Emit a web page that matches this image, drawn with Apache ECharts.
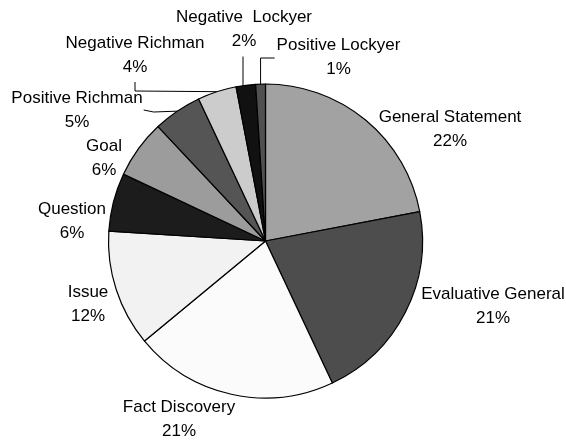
<!DOCTYPE html>
<html>
<head>
<meta charset="utf-8">
<script src="https://cdn.jsdelivr.net/npm/echarts@6/dist/echarts.min.js"></script>
<style>
  html, body { margin: 0; padding: 0; background: #fff; }
  #chart { width: 566px; height: 442px; }
</style>
</head>
<body>
<div id="chart"></div>
<script>
// Categories and their shares (percent), clockwise from 12 o'clock
const categories = [
  'General Statement', 'Evaluative General', 'Fact Discovery', 'Issue', 'Question',
  'Goal', 'Positive Richman', 'Negative Richman', 'Negative  Lockyer', 'Positive Lockyer'
];
const shares = [22, 21, 21, 12, 6, 6, 5, 4, 2, 1];

// Grey fill for each slice
const sliceColors = [
  '#a2a2a2', '#4d4d4d', '#fbfbfb', '#f2f2f2', '#1c1c1c',
  '#9c9c9c', '#555555', '#cccccc', '#111111', '#505050'
];

// Pie geometry
const CX = 265.5, CY = 241, R = 157;

// Where each two-line label block is centred
const labelCenters = [
  [450, 129.5], [493, 306], [179, 419.5], [88, 304], [72, 221.5],
  [104, 158.5], [77, 110], [135, 55], [244, 29.5], [338.5, 57]
];
// Leader-line style per slice: null = no line
const leaderKind = [null, null, null, null, null, null, 'side', 'drop', 'down', 'elbow'];

const total = shares.reduce((a, b) => a + b, 0);
// Point on the rim at the slice's middle angle (clockwise from top)
function rimPoint(i) {
  let before = 0;
  for (let k = 0; k < i; k++) before += shares[k];
  const t = (before + shares[i] / 2) / total * 2 * Math.PI;
  return [CX + R * Math.sin(t), CY - R * Math.cos(t)];
}
// Rim y directly below/above a given x on the upper half
function rimYAt(x) {
  return CY - Math.sqrt(Math.max(0, R * R - (x - CX) * (x - CX)));
}

const LINE_H = 24;

function leaderPoints(i, rect) {
  const [lx, ly] = labelCenters[i];
  const rim = rimPoint(i);
  const bottom = ly + LINE_H;
  switch (leaderKind[i]) {
    case 'side': {
      const right = lx + rect.width / 2 + 1;
      return [rim, [right + 10, ly + 2], [right, ly]];
    }
    case 'drop':
      return [rim, [lx, bottom + 12], [lx, bottom + 3]];
    case 'down':
      return [[lx - 1, rimYAt(lx - 1) + 1], [lx - 1, bottom + 3]];
    case 'elbow': {
      const left = lx - rect.width / 2 - 2;
      return [rim, [rim[0], ly + 1], [left, ly + 1]];
    }
  }
  return null;
}

const chart = echarts.init(document.getElementById('chart'), null, { renderer: 'canvas' });

const seriesData = categories.map((name, i) => ({
  name,
  value: shares[i],
  itemStyle: { color: sliceColors[i] },
  labelLine: { show: leaderKind[i] !== null }
}));

chart.setOption({
  animation: false,
  backgroundColor: '#ffffff',
  series: [{
    type: 'pie',
    center: [CX, CY],
    radius: R,
    startAngle: 90,
    clockwise: true,
    avoidLabelOverlap: false,
    percentPrecision: 0,
    data: seriesData,
    itemStyle: { borderColor: '#000', borderWidth: 1.2 },
    label: {
      show: true,
      position: 'outside',
      formatter: '{b}\n{d}%',
      color: '#000',
      fontFamily: 'Liberation Sans, Arial, sans-serif',
      fontSize: 17,
      lineHeight: LINE_H,
      align: 'center'
    },
    labelLine: {
      show: true,
      smooth: false,
      lineStyle: { color: '#000', width: 1 }
    },
    emphasis: { disabled: true },
    labelLayout: function (params) {
      const i = params.dataIndex;
      const [x, y] = labelCenters[i];
      const out = { x, y, align: 'center', verticalAlign: 'middle' };
      const pts = leaderPoints(i, params.labelRect);
      if (pts) out.labelLinePoints = pts;
      return out;
    }
  }]
});
</script>
</body>
</html>
